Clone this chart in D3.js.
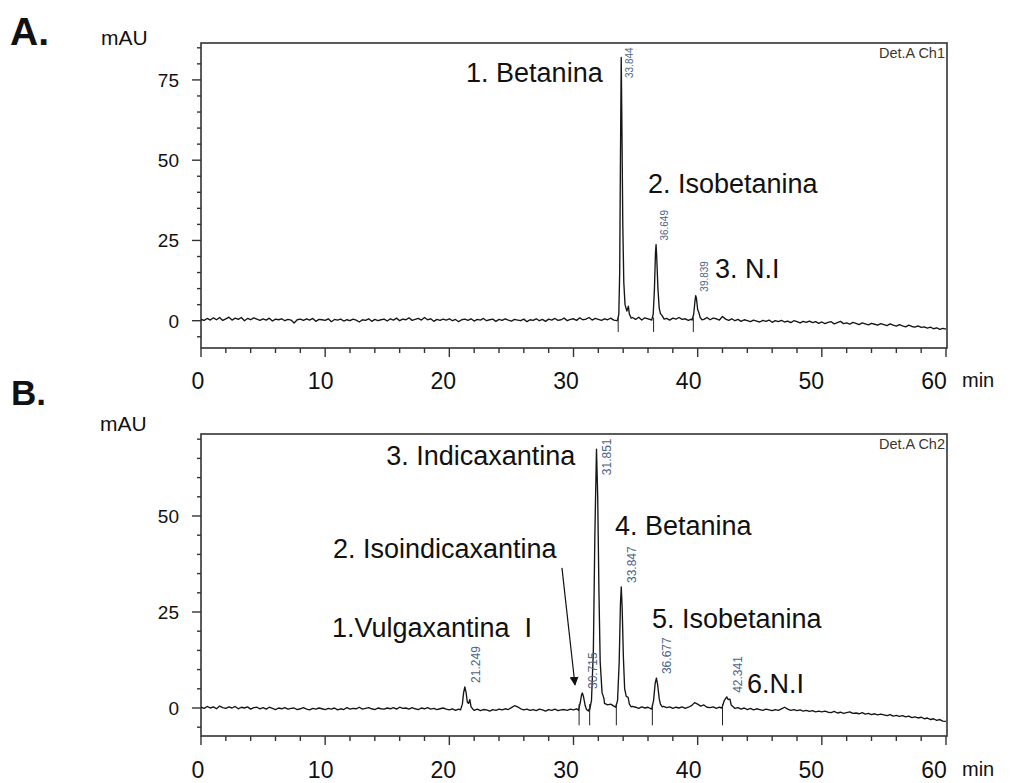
<!DOCTYPE html>
<html>
<head>
<meta charset="utf-8">
<script src="https://cdn.jsdelivr.net/npm/d3@7"></script>
<style>
  body { margin: 0; background: #fff; }
  text { font-family: "Liberation Sans", Arial, sans-serif; fill: #111; }
</style>
</head>
<body>
<div id="chart"></div>
<script>
// time axis (min)
const timeTicks = [0, 10, 20, 30, 40, 50, 60];
const baseStep = 0.25;

// --- A: Det.A Ch1 ---
// baseline read every 0.25 min, 0..60
const baseA = [
  0.4, 0.1, 0.7, 0.2, 0.9, 0.3, 1.0, 0.1, 0.6, 1.1, 0.2, 0.8, 0.4, 1.0, 0.0, 0.7, 0.3, 0.9, 0.5, 0.1,
  0.6, 0.2, 0.8, -0.1, 0.5, 0.3, 0.6, 0.0, 0.4, 0.2, -0.7, 0.3, 0.5, 0.1, 0.6, 0.2, 0.7, -0.2, 0.4, 0.3,
  0.1, 0.6, -0.3, 0.4, 0.2, 0.5, -0.1, 0.3, 0.0, 0.5, 0.2, -0.4, 0.3, 0.1, 0.6, -0.2, 0.4, 0.0, 0.3, 0.5,
  -0.1, 0.6, 0.2, 0.8, 0.0, 0.5, 0.3, 0.9, 0.1, 0.4, 0.7, 0.2, 1.0, 0.3, 0.6, -0.2, 0.4, 0.1, 0.5, 0.2,
  0.6, 0.0, 0.4, -0.3, 0.3, 0.5, 0.1, 0.6, -0.1, 0.4, 0.2, 0.7, 0.0, 0.3, 0.5, -0.2, 0.4, 0.1, 0.6, 0.2,
  -0.1, 0.4, 0.2, 0.0, 0.5, -0.3, 0.3, 0.1, 0.6, 0.0, 0.4, -0.2, 0.5, 0.2, 0.7, 0.1, 0.3, 0.8, 0.0, 0.4,
  0.6, 0.1, 0.9, 0.3, 0.5, 1.0, 0.2, 0.7, 0.4, 0.1, 0.6, 0.3, 0.8, 0.2, 0.0, 0.3, 0.5, 0.6, 0.8, 1.0,
  0.4, 1.1, 0.2, 0.9, 0.6, 0.3, 0.8, 0.5, 0.9, 0.3, 0.7, 0.2, 0.8, 0.5, 1.0, 0.4, 0.6, 0.1, 0.5, 0.3,
  0.7, 0.9, 0.4, 1.0, 0.3, 0.8, 0.6, 0.2, 1.3, 0.5, 0.1, 0.6, 0.0, 0.4, -0.2, 0.3, 0.0, -0.3, 0.2, -0.1,
  -0.4, 0.1, -0.2, 0.2, -0.5, 0.0, -0.3, 0.1, -0.4, -0.1, -0.6, 0.0, -0.3, -0.7, -0.2, -0.5, -0.1, -0.6, -0.3, -0.8,
  -0.4, -0.9, -0.5, -0.3, -1.0, -0.6, -0.2, -0.9, -0.7, -1.1, -0.5, -0.8, -1.2, -0.7, -1.0, -1.3, -0.8, -1.1, -1.4, -0.9,
  -1.2, -1.5, -1.0, -1.4, -1.7, -1.2, -1.6, -1.9, -1.4, -1.8, -2.0, -1.6, -2.1, -1.9, -2.3, -2.0, -2.5, -2.2, -2.7, -2.4,
  -2.6
];
// peaks as [min, mAU]
const peaksA = [
  [[33.55, 0.2], [33.65, 2], [33.72, 15], [33.78, 50], [33.844, 82], [33.9, 60], [33.97, 30], [34.05, 12], [34.15, 5], [34.3, 3], [34.42, 4.5], [34.5, 2], [34.65, 0.8]],
  [[36.3, 0.2], [36.42, 2], [36.52, 10], [36.6, 21], [36.649, 23.7], [36.7, 20], [36.8, 10], [36.9, 4], [37.0, 2.2], [37.15, 1.5], [37.3, 0.5]],
  [[39.55, 0.2], [39.68, 2], [39.78, 6], [39.839, 7.8], [39.9, 7], [40.0, 3.5], [40.1, 2.5], [40.2, 1], [40.35, 0.3]]
];
const rtA = ["33.844", "36.649", "39.839"];
const dropsA = [33.6, 36.45, 39.65];
const namesA = ["1. Betanina", "2. Isobetanina", "3. N.I"];

// --- B: Det.A Ch2 ---
const baseB = [
  0.2, -0.1, 0.4, 0.0, 0.3, -0.2, 0.5, 0.1, -0.1, 0.3, 0.0, 0.4, -0.2, 0.2, 0.0, 0.3, -0.3, 0.1, 0.2, -0.2,
  0.1, -0.3, 0.2, -0.1, -0.4, 0.0, -0.2, 0.1, -0.3, -0.1, 0.0, -0.4, -0.2, 0.1, -0.3, -0.5, -0.1, -0.3, 0.0, -0.2,
  -0.4, -0.1, -0.3, 0.0, -0.5, -0.2, -0.4, 0.1, -0.3, -0.1, -0.2, 0.2, -0.3, -0.1, 0.1, -0.2, -0.4, 0.0, -0.2, -0.3,
  0.0, -0.2, 0.1, -0.3, 0.2, -0.1, 0.0, -0.3, 0.1, -0.2, -0.4, 0.0, -0.2, 0.1, -0.3, -0.1, -0.4, -0.2, 0.0, -0.3,
  -0.5, -0.2, -0.6, -0.3, -0.4, -0.3, -0.5, -0.4, -0.6, -0.3, -0.7, -0.4, -0.5, -0.8, -0.4, -0.6, -0.3, -0.5, -0.2, -0.4,
  0.1, 0.6, 0.3, -0.2, -0.5, -0.3, -0.6, -0.4, -0.7, -0.3, -0.5, -0.8, -0.4, -0.6, -0.3, -0.7, -0.5, -0.4, -0.6, -0.3,
  -0.5, -0.2, -0.4, 0.0, -0.5, -0.3, 0.0, 0.0, 0.0, 0.0, 1.2, 0.8, 1.0, 0.5, 0.3, 0.0, 0.0, 0.0, 1.0, 0.4,
  0.2, -0.1, 0.3, 0.0, 0.2, -0.2, 0.0, 0.0, 0.0, 0.4, 0.1, 0.3, -0.1, 0.2, 0.0, 0.3, -0.1, 0.2, 0.6, 1.4,
  1.0, 0.5, 0.8, 0.2, 0.1, 0.3, -0.1, 0.2, 0.0, 0.0, 0.0, 0.0, -0.1, 0.1, -0.3, 0.0, -0.4, -0.1, -0.5, -0.2,
  -0.4, -0.6, -0.3, -0.5, -0.7, -0.4, -0.6, -0.2, 0.2, -0.3, -0.6, -0.4, -0.7, -0.5, -0.8, -0.6, -0.9, -0.7, -1.0, -0.8,
  -1.0, -0.8, -1.1, -1.2, -0.9, -1.3, -1.1, -1.4, -1.2, -1.0, -1.4, -1.3, -1.5, -1.2, -1.6, -1.4, -1.7, -1.5, -1.8, -1.6,
  -1.8, -2.0, -1.7, -2.1, -1.9, -2.2, -2.0, -2.3, -2.1, -2.5, -2.3, -2.6, -2.4, -2.8, -2.6, -3.0, -2.8, -3.2, -3.0, -3.4,
  -3.5
];
const peaksB = [
  [[20.9, -0.5], [21.05, 1], [21.15, 4], [21.249, 5.5], [21.35, 4], [21.45, 1.5], [21.55, 1.2], [21.65, 2.2], [21.75, 0.3], [21.9, -0.3]],
  [[30.4, -0.6], [30.55, 1.5], [30.65, 3.5], [30.715, 3.9], [30.8, 3], [30.95, 0.5], [31.05, -0.4], [31.2, -0.8]],
  [[31.3, -0.5], [31.45, 2], [31.6, 15], [31.72, 45], [31.851, 67.4], [31.95, 55], [32.05, 30], [32.15, 12], [32.3, 4], [32.45, 2.5]],
  [[33.4, 0.2], [33.55, 2], [33.68, 12], [33.78, 27], [33.847, 31.5], [33.92, 26], [34.02, 13], [34.12, 5], [34.25, 3], [34.4, 2.8], [34.5, 1], [34.65, 0.3]],
  [[36.3, -0.3], [36.45, 2], [36.58, 6.5], [36.677, 7.8], [36.78, 6], [36.9, 2.5], [37.0, 1], [37.15, 0.3]],
  [[41.95, 0], [42.15, 2], [42.341, 2.9], [42.45, 2.2], [42.6, 2.3], [42.7, 0.8], [42.9, 0.2]]
];
const rtB = ["21.249", "30.715", "31.851", "33.847", "36.677", "42.341"];
const dropsB = [30.45, 31.3, 33.45, 36.35, 42.0];
const namesB = ["1.Vulgaxantina  I", "2. Isoindicaxantina", "3. Indicaxantina", "4. Betanina", "5. Isobetanina", "6.N.I"];

const W = 1024, H = 783;
const svg = d3.select("#chart").append("svg")
  .attr("width", W).attr("height", H)
  .style("background", "#fff");

// merge baseline and peak points into one trace
function buildTrace(base, peaks) {
  let pts = base.map((v, i) => [i * baseStep, v]);
  peaks.forEach(p => {
    const t0 = p[0][0], t1 = p[p.length - 1][0];
    pts = pts.filter(d => d[0] < t0 || d[0] > t1).concat(p);
  });
  return pts.sort((a, b) => a[0] - b[0]);
}

function drawPanel(cfg) {
  const x = d3.scaleLinear().domain([0, 60]).range([201, 946]);
  const xLab = d3.scaleLinear().domain([0, 60]).range([198, 934]);
  const y = d3.scaleLinear().domain(cfg.yDomain).range([cfg.bottom, cfg.top]);
  const g = svg.append("g");

  g.append("clipPath").attr("id", "clip" + cfg.id)
    .append("rect").attr("x", 201).attr("y", cfg.top).attr("width", 746).attr("height", cfg.bottom - cfg.top);

  // frame
  g.append("rect")
    .attr("x", 201).attr("y", cfg.top)
    .attr("width", 746).attr("height", cfg.bottom - cfg.top)
    .attr("fill", "none").attr("stroke", "#333").attr("stroke-width", 1.6);

  // y ticks
  const yt = d3.range(-5, cfg.yDomain[1], 5);
  g.selectAll(".yt").data(yt).enter().append("line")
    .attr("x1", d => d % 25 === 0 ? 192 : 197).attr("x2", 201)
    .attr("y1", d => y(d)).attr("y2", d => y(d))
    .attr("stroke", "#333").attr("stroke-width", 1.4);
  g.selectAll(".yl").data(yt.filter(d => d >= 0 && d % 25 === 0)).enter().append("text")
    .attr("x", 179).attr("y", d => y(d)).attr("dy", "0.36em")
    .attr("text-anchor", "end").attr("font-size", 19)
    .text(d => d);

  // x ticks
  g.selectAll(".xt").data(d3.range(0, 61, 2)).enter().append("line")
    .attr("x1", d => x(d)).attr("x2", d => x(d))
    .attr("y1", cfg.bottom).attr("y2", d => d % 10 === 0 ? cfg.bottom + 9 : cfg.bottom + 5)
    .attr("stroke", "#333").attr("stroke-width", 1.4);
  g.selectAll(".xl").data(timeTicks).enter().append("text")
    .attr("x", d => xLab(d)).attr("y", cfg.xLabelY)
    .attr("text-anchor", "middle").attr("font-size", 23)
    .style("font-family", '"Liberation Sans Narrow", "Arial Narrow", "Liberation Sans", sans-serif')
    .text(d => d);
  g.append("text").attr("x", 962).attr("y", cfg.xLabelY - 2).attr("font-size", 20).text("min");

  g.append("text").attr("x", cfg.mauX).attr("y", cfg.mauY).attr("font-size", 21).text("mAU");
  g.append("text").attr("x", cfg.titleX).attr("y", cfg.titleY)
    .attr("font-size", cfg.titleSize).attr("font-weight", "bold")
    .style("font-family", '"Liberation Sans", Arial, sans-serif')
    .text(cfg.title);
  g.append("text").attr("x", 945).attr("y", cfg.top + 15)
    .attr("text-anchor", "end").attr("font-size", 14.5)
    .style("fill", "#3d3530").text(cfg.det);

  // trace
  const trace = buildTrace(cfg.base, cfg.peaks);
  g.append("path").datum(trace)
    .attr("clip-path", "url(#clip" + cfg.id + ")")
    .attr("d", d3.line().x(d => x(d[0])).y(d => y(d[1])))
    .attr("fill", "none").attr("stroke", "#151515").attr("stroke-width", 1.35)
    .attr("stroke-linejoin", "round");

  // integration drop marks
  g.selectAll(".drop").data(cfg.drops).enter().append("line")
    .attr("x1", d => x(d)).attr("x2", d => x(d))
    .attr("y1", y(1)).attr("y2", y(cfg.dropTo))
    .attr("stroke", "#222").attr("stroke-width", 1);

  // retention time labels
  cfg.peaks.forEach((p, i) => {
    const apex = p.reduce((a, b) => b[1] > a[1] ? b : a);
    const len = cfg.rtSize * 3.1;
    const yStart = Math.max(y(apex[1]) - 4, cfg.top + 4 + len);
    g.append("text")
      .attr("transform", `translate(${x(apex[0]) + cfg.rtDx},${yStart}) rotate(-90)`)
      .attr("font-size", cfg.rtSize)
      .style("fill", "#4e6585")
      .text(cfg.rt[i]);
  });

  // compound names
  cfg.names.forEach((n, i) => {
    const a = cfg.namePos[i];
    g.append("text")
      .attr("x", x(a[0])).attr("y", y(a[1]))
      .attr("text-anchor", a[2] || "start")
      .attr("font-size", 27)
      .style("white-space", "pre")
      .text(n);
  });

  return { x, y, g };
}

drawPanel({
  id: "A", title: "A.", titleX: 10, titleY: 45, titleSize: 39,
  mauX: 101, mauY: 45, det: "Det.A Ch1",
  top: 43, bottom: 348, yDomain: [-8.5, 86.5], xLabelY: 389,
  base: baseA, peaks: peaksA, rt: rtA, rtDx: 12, rtSize: 10,
  drops: dropsA, dropTo: -3.5,
  names: namesA,
  namePos: [[32.35, 74.5, "end"], [36.0, 39.8], [41.4, 13.3]]
});

const pB = drawPanel({
  id: "B", title: "B.", titleX: 11, titleY: 405, titleSize: 35,
  mauX: 100, mauY: 431, det: "Det.A Ch2",
  top: 434, bottom: 736, yDomain: [-7.29, 71.35], xLabelY: 778,
  base: baseB, peaks: peaksB, rt: rtB, rtDx: 15, rtSize: 12,
  drops: dropsB, dropTo: -4.5,
  names: namesB,
  namePos: [[10.55, 18.5], [10.63, 39], [30.15, 63.3, "end"], [33.34, 45.0], [36.32, 20.8], [43.97, 3.9]]
});

// arrow to peak 2 in B
svg.append("defs").append("marker")
  .attr("id", "arrow").attr("viewBox", "0 0 10 10")
  .attr("refX", 9).attr("refY", 5)
  .attr("markerWidth", 9).attr("markerHeight", 9)
  .attr("markerUnits", "userSpaceOnUse")
  .attr("orient", "auto")
  .append("path").attr("d", "M0,0L10,5L0,10z").attr("fill", "#111");
pB.g.append("line")
  .attr("x1", pB.x(29.07)).attr("y1", pB.y(36.5))
  .attr("x2", pB.x(30.12)).attr("y2", pB.y(6.0))
  .attr("stroke", "#111").attr("stroke-width", 1.2)
  .attr("marker-end", "url(#arrow)");
</script>
</body>
</html>
